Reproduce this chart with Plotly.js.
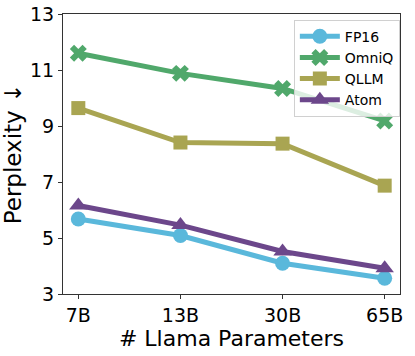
<!DOCTYPE html>
<html lang="en">
<head>
<meta charset="UTF-8">
<title>Perplexity vs Llama size</title>
<script src="https://cdn.plot.ly/plotly-3.0.1.min.js"></script>
<style>
  html, body { margin: 0; padding: 0; background: #fff; }
  #graph { width: 415px; height: 356px; }
</style>
</head>
<body>
<div id="graph"></div>
<script>
var modelSizes = ['7B', '13B', '30B', '65B'];

var fp16 = [5.68, 5.09, 4.10, 3.56];
var omniq = [11.60, 10.88, 10.34, 9.18];
var qllm = [9.64, 8.41, 8.37, 6.87];
var atom = [6.16, 5.46, 4.52, 3.92];

var yTicks = [3, 5, 7, 9, 11, 13];

var series = [
  { name: 'FP16', y: fp16, color: '#5ab8db', symbol: 'circle', size: 15 },
  { name: 'OmniQ', y: omniq, color: '#50a86b', symbol: 'x', size: 15 },
  { name: 'QLLM', y: qllm, color: '#a9a552', symbol: 'square', size: 14 },
  { name: 'Atom', y: atom, color: '#6c478b', symbol: 'triangle-up', size: 16 }
];

var traces = series.map(function (s) {
  return {
    x: [0, 1, 2, 3],
    y: s.y,
    name: s.name,
    type: 'scatter',
    mode: 'lines+markers',
    line: { color: s.color, width: 5 },
    marker: { color: s.color, symbol: s.symbol, size: s.size }
  };
});

var layout = {
  width: 415,
  height: 356,
  margin: { l: 63, r: 15, t: 14, b: 62 },
  paper_bgcolor: '#fff',
  plot_bgcolor: '#fff',
  font: { family: 'DejaVu Sans', color: '#000' },
  showlegend: true,
  legend: {
    x: 0.685, y: 0.98, xanchor: 'left', yanchor: 'top',
    bgcolor: 'rgba(255,255,255,0.8)',
    bordercolor: '#d0d0d0', borderwidth: 1,
    font: { size: 14 },
    tracegroupgap: 0,
    itemwidth: 40
  },
  xaxis: {
    range: [-0.15, 3.15],
    tickvals: [0, 1, 2, 3],
    ticktext: modelSizes,
    tickfont: { size: 19 },
    ticks: 'outside', ticklen: 4, tickcolor: '#333',
    showgrid: false, zeroline: false,
    showline: true, linecolor: '#333', linewidth: 1, mirror: true,
    title: { text: '# Llama Parameters', font: { size: 22 }, standoff: 4 }
  },
  yaxis: {
    range: [3, 13],
    tickvals: yTicks,
    tickfont: { size: 19 },
    ticks: 'outside', ticklen: 4, tickcolor: '#333',
    showgrid: false, zeroline: false,
    showline: true, linecolor: '#333', linewidth: 1, mirror: true,
    title: { text: 'Perplexity ↓', font: { size: 23 }, standoff: 6 }
  }
};

Plotly.newPlot('graph', traces, layout, { displayModeBar: false, staticPlot: true });
</script>
</body>
</html>
